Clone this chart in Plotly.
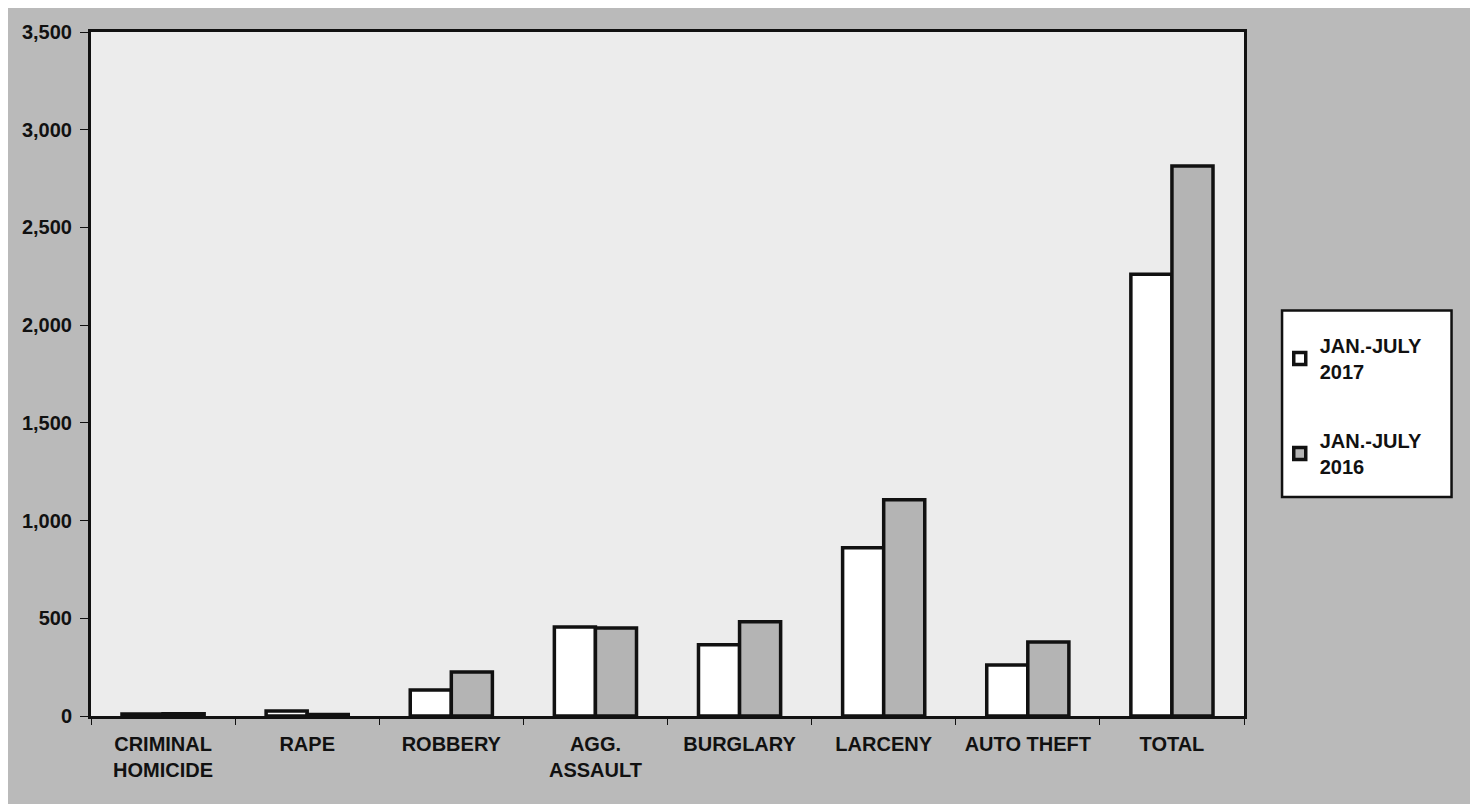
import plotly.graph_objects as go

categories = ["CRIMINAL<br>HOMICIDE", "RAPE", "ROBBERY", "AGG.<br>ASSAULT",
              "BURGLARY", "LARCENY", "AUTO THEFT", "TOTAL"]
jan_july_2017 = [10, 25, 133, 455, 364, 861, 261, 2260]
jan_july_2016 = [12, 8, 225, 450, 482, 1107, 379, 2814]
series_names = ["<b>JAN.-JULY<br>2017</b>", "<b>JAN.-JULY<br>2016</b>"]
y_ticks = [0, 500, 1000, 1500, 2000, 2500, 3000, 3500]
y_tick_text = ["<b>0</b>", "<b>500</b>", "<b>1,000</b>", "<b>1,500</b>", "<b>2,000</b>",
               "<b>2,500</b>", "<b>3,000</b>", "<b>3,500</b>"]

FAM = "Liberation Sans, Arial, sans-serif"
FS = 20
font = dict(family=FAM, size=FS, color="#111111")

fig = go.Figure()
fig.add_trace(go.Bar(
    x=categories, y=jan_july_2017, name=series_names[0], legendgroup="a",
    marker=dict(color="#ffffff", line=dict(color="#111111", width=3.5)),
))
fig.add_trace(go.Bar(
    x=categories, y=jan_july_2016, name=series_names[1], legendgroup="b",
    marker=dict(color="#b4b4b4", line=dict(color="#111111", width=3.5)),
))

# legend frame
fig.add_shape(type="rect", xref="paper", yref="paper",
              x0=1.033, x1=1.180, y0=0.320, y1=0.593,
              fillcolor="#ffffff", line=dict(color="#111111", width=2.5), layer="below")

fig.update_layout(
    width=1478, height=804,
    barmode="group", bargap=0.43, bargroupgap=0.0,
    paper_bgcolor="#bababa", plot_bgcolor="#ececec",
    margin=dict(l=83, r=242, t=24, b=96),
    font=font,
    showlegend=True,
    legend=dict(
        x=1.031, y=0.57, xanchor="left", yanchor="top",
        bgcolor="rgba(0,0,0,0)", borderwidth=0,
        font=dict(family=FAM, size=FS, color="#111111"),
        traceorder="grouped", tracegroupgap=40, itemwidth=30,
    ),
    xaxis=dict(
        showline=True, linecolor="#111111", linewidth=3, mirror=True,
        ticks="outside", tickson="boundaries", ticklen=6, tickcolor="#111111",
        showgrid=False, ticklabelstandoff=8,
        tickvals=categories,
        ticktext=["<b>" + c + "</b>" for c in categories],
        tickfont=dict(family=FAM, size=FS, color="#111111"),
    ),
    yaxis=dict(
        range=[0, 3500], tickvals=y_ticks, ticktext=y_tick_text,
        showline=True, linecolor="#111111", linewidth=3, mirror=True,
        ticks="outside", ticklen=8, tickcolor="#111111", showgrid=False, zeroline=False,
        ticklabelstandoff=4,
        tickfont=dict(family=FAM, size=FS, color="#111111"),
    ),
)

fig.write_html("out.html")
